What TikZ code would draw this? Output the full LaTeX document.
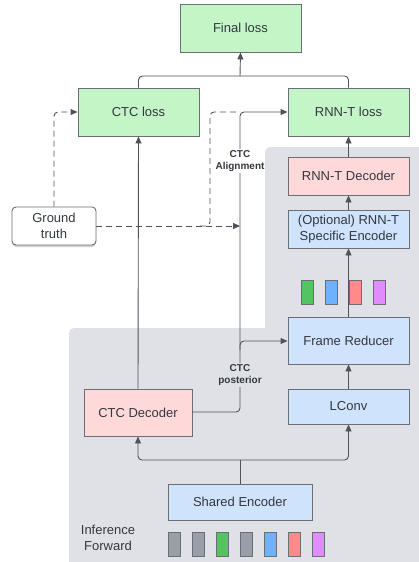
\documentclass[tikz,border=0pt]{standalone}
\usepackage{fontspec}
\setmainfont{Liberation Sans}
\usetikzlibrary{arrows.meta,shadows}
\definecolor{lgreen}{HTML}{C3F5C6}
\definecolor{lpink}{HTML}{FFD9DA}
\definecolor{lblue}{HTML}{CFE3FC}
\definecolor{regiongray}{HTML}{DFE1E6}
\definecolor{edgegray}{HTML}{6A6E75}
\definecolor{linegray}{HTML}{4E535B}
\definecolor{txt}{HTML}{333840}
\definecolor{bgreen}{HTML}{54C45E}
\definecolor{bblue}{HTML}{6DB1FF}
\definecolor{bred}{HTML}{FF8A8A}
\definecolor{bpurple}{HTML}{E08CFF}
\definecolor{bgray}{HTML}{989FA8}
\tikzset{
  box/.style={draw=edgegray, line width=0.9pt, text=txt, font=\fontsize{13}{16}\selectfont, align=center, inner sep=0pt},
  gbox/.style={box, fill=lgreen, minimum width=121pt, minimum height=48pt},
  pbox/.style={box, fill=lpink},
  bbox/.style={box, fill=lblue},
  conn/.style={draw=linegray, line width=0.9pt, rounded corners=4pt},
  arr/.style={conn, -{Triangle[length=7pt,width=6pt]}},
  dconn/.style={conn, dash pattern=on 6pt off 4pt},
  darr/.style={dconn, -{Triangle[length=7pt,width=6pt]}},
  bar/.style={draw=edgegray, line width=0.8pt, minimum width=12pt, minimum height=24pt, inner sep=0pt},
  lab/.style={font=\bfseries\fontsize{10}{12}\selectfont, text=txt, align=center, inner sep=1pt}
}
\begin{document}
\begin{tikzpicture}[x=1pt,y=-1pt]
\useasboundingbox (0,0) rectangle (419,562);
\fill[white] (0,0) rectangle (419,562);
% gray region (union of two rounded rectangles)
\begin{scope}
\clip (0,0) rectangle (419,562);
\fill[regiongray, rounded corners=5pt] (69,328) rectangle (440,580);
\fill[regiongray, rounded corners=5pt] (265,147) rectangle (440,580);
\end{scope}

% nodes
\node[gbox] (final) at (240.5,28) {Final loss};
\node[gbox] (ctcloss) at (138.5,112) {CTC loss};
\node[gbox] (rnntloss) at (348.5,112) {RNN-T loss};
\node[pbox, minimum width=121pt, minimum height=38pt] (rnntdec) at (348.5,176) {RNN-T Decoder};
\node[bbox, minimum width=121pt, minimum height=38pt] (optenc) at (348.5,229) {(Optional) RNN-T\\Specific Encoder};
\node[bbox, minimum width=121pt, minimum height=47pt] (frame) at (348.5,340.5) {Frame Reducer};
\node[bbox, minimum width=121pt, minimum height=35pt] (lconv) at (348.5,406.5) {LConv};
\node[pbox, minimum width=108pt, minimum height=47pt] (ctcdec) at (138,412.5) {CTC Decoder};
\node[bbox, minimum width=144pt, minimum height=36pt] (shared) at (240,502) {Shared Encoder};
\node[box, fill=white, rounded corners=4pt, minimum width=84pt, minimum height=38pt,
      drop shadow={opacity=0.35, shadow xshift=0pt, shadow yshift=-2pt}] (gt) at (54,226) {Ground\\truth};
\node[text=txt, font=\fontsize{13}{16}\selectfont, align=center, inner sep=0pt] (inf) at (108,538) {Inference\\Forward};

% coordinates
\coordinate (top) at (240,76);
\coordinate (split) at (240,460);
\coordinate (gtend) at (240,226);

% loss merge
\draw[conn] (ctcloss.north) |- (top);
\draw[conn] (rnntloss.north) |- (top);
\draw[arr] (top) -- (final.south);

% encoder stack
\draw[arr] (ctcdec.north) -- (ctcloss.south);
\draw[arr] (rnntdec.north) -- (rnntloss.south);
\draw[arr] (optenc.north) -- (rnntdec.south);
\draw[arr] (frame.north) -- (optenc.south);
\draw[arr] (lconv.north) -- (frame.south);
\draw[conn] (shared.north) -- (split);
\draw[arr] (split) -| (ctcdec.south);
\draw[arr] (split) -| (lconv.south);

% CTC posterior / alignment
\draw[arr] (ctcdec.east |- 0,412) -- (240,412) -- (240,341) -- (frame.west |- 0,341);
\draw[arr] (240,350) -- (240,112) -- (rnntloss.west);

% ground truth dashed
\draw[darr] (gt.north) |- (ctcloss.west);
\draw[darr] (gt.east) -- (gtend);
\draw[dconn] (200,226) -- (210,226) -- (210,112) -- (240,112);

% labels
\node[lab, fill=white] (align) at (240,161) {CTC\\Alignment};
\node[lab, fill=regiongray] (post) at (240,375) {CTC\\posterior};

% bars upper
\node[bar, fill=bgreen] (u1) at (307,292) {};
\node[bar, fill=bblue] (u2) at (331,292) {};
\node[bar, fill=bred] (u3) at (355,292) {};
\node[bar, fill=bpurple] (u4) at (379,292) {};
% bars lower
\node[bar, fill=bgray] (l1) at (174.5,544.5) {};
\node[bar, fill=bgray] (l2) at (198.5,544.5) {};
\node[bar, fill=bgreen] (l3) at (222.5,544.5) {};
\node[bar, fill=bgray] (l4) at (246.5,544.5) {};
\node[bar, fill=bblue] (l5) at (270.5,544.5) {};
\node[bar, fill=bred] (l6) at (294.5,544.5) {};
\node[bar, fill=bpurple] (l7) at (318.5,544.5) {};
\end{tikzpicture}
\end{document}
